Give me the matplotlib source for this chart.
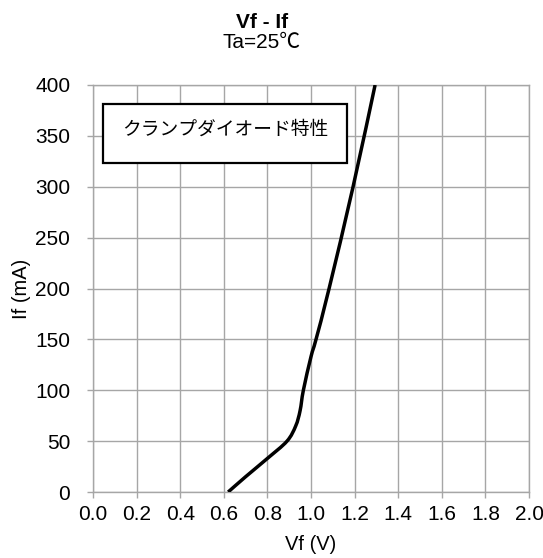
import matplotlib
matplotlib.use("Agg")
import matplotlib.pyplot as plt
import numpy as np
from matplotlib.path import Path
from matplotlib.patches import PathPatch, Rectangle

plt.rcParams['font.family'] = ['Liberation Sans', 'Noto Sans CJK JP', 'DejaVu Sans']

vf = [0.62, 0.70, 0.80, 0.89, 0.93, 0.95, 0.965, 1.0, 1.023, 1.083, 1.193, 1.294]
i_f = [0, 15, 33, 50, 65, 80, 100, 133, 150, 200, 300, 400]
xticks = [0.0, 0.2, 0.4, 0.6, 0.8, 1.0, 1.2, 1.4, 1.6, 1.8, 2.0]
yticks = [0, 50, 100, 150, 200, 250, 300, 350, 400]

W, H = 543, 558
fig = plt.figure(figsize=(W / 100, H / 100), dpi=100)
ax = fig.add_axes([93 / W, 1 - 492 / H, (529 - 93) / W, (492 - 85) / H])

grid_c = '#a6a6a6'
ax.set_xlim(0, 2.0)
ax.set_ylim(0, 400)

# smoothed line (Excel-like Bezier through the data points), built in display space
pts = ax.transData.transform(np.column_stack([vf, i_f]))
verts = [pts[0]]
codes = [Path.MOVETO]
n = len(pts)
for k in range(n - 1):
    p0 = pts[k - 1] if k > 0 else pts[k]
    p1 = pts[k]
    p2 = pts[k + 1]
    p3 = pts[k + 2] if k + 2 < n else pts[k + 1]
    c1 = p1 + (p2 - p0) / 6.0
    c2 = p2 - (p3 - p1) / 6.0
    verts += [c1, c2, p2]
    codes += [Path.CURVE4] * 3
verts = ax.transData.inverted().transform(np.array(verts))
ax.add_patch(PathPatch(Path(verts, codes), facecolor='none', edgecolor='black',
                       lw=2.5, capstyle='butt', zorder=3))

ax.set_xticks(xticks)
ax.set_xticklabels([f"{t:.1f}" for t in xticks])
ax.set_yticks(yticks)
ax.grid(True, color=grid_c, lw=1.0)
for s in ax.spines.values():
    s.set_color(grid_c)
    s.set_linewidth(1.0)
ax.tick_params(axis='both', colors=grid_c, labelcolor='black', labelsize=15, length=4.3, width=1.0)
ax.tick_params(axis='y', pad=12)
ax.tick_params(axis='x', pad=5)

ax.set_xlabel('Vf (V)', fontsize=14.5, labelpad=8)
ax.set_ylabel('If (mA)', fontsize=14.5, labelpad=3)

fig.text(262 / W, 1 - 23 / H, 'Vf - If', ha='center', va='center', fontsize=15, fontweight='bold')
fig.text(262 / W, 1 - 42 / H, 'Ta=25℃', ha='center', va='center', fontsize=15,
         family=['Liberation Sans', 'Noto Sans CJK JP'])

# annotation box
bx0, bx1, by0, by1 = 103, 347, 104, 163
fig.patches.append(Rectangle((bx0 / W, 1 - by1 / H), (bx1 - bx0) / W, (by1 - by0) / H,
                             transform=fig.transFigure, facecolor='white', edgecolor='black',
                             lw=1.6, zorder=5))
fig.text((bx0 + bx1) / 2 / W, 1 - 129 / H, 'クランプダイオード特性',
         ha='center', va='center', fontsize=13.5, family=['Noto Sans CJK JP'], zorder=6)

fig.savefig('out.png', dpi=100)
